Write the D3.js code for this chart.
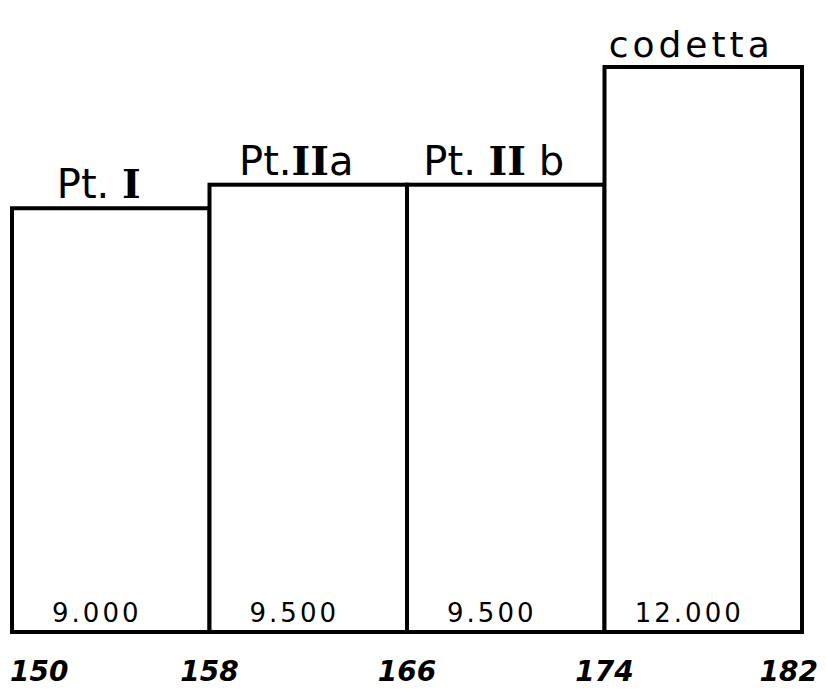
<!DOCTYPE html>
<html>
<head>
<meta charset="utf-8">
<script src="https://cdn.jsdelivr.net/npm/d3@7"></script>
<style>
  body { margin: 0; background: #fff; }
  svg { display: block; }
</style>
</head>
<body>
<svg id="chart" width="826" height="698"></svg>
<script>
// section boundaries (measures) and lengths
const starts = [150, 158, 166, 174];
const ends = [158, 166, 174, 182];
const values = [9.0, 9.5, 9.5, 12.0];
const valueLabels = ["9.000", "9.500", "9.500", "12.000"];
const sectionNames = [
  ["Pt. ", "I", ""],
  ["Pt.", "II", "a"],
  ["Pt. ", "II", " b"],
  ["codetta", "", ""],
];
const tickValues = [150, 158, 166, 174, 182];

const svg = d3.select("#chart");
const strokeW = 4;
const baseY = 632;

const x = d3.scaleLinear().domain([150, 182]).range([12, 802]);
const y = d3.scaleLinear().domain([0, 12]).range([baseY, 67]);

const data = values.map((v, i) => ({
  start: starts[i],
  end: ends[i],
  value: v,
  label: valueLabels[i],
  name: sectionNames[i],
}));

// bars
svg
  .selectAll("rect.bar")
  .data(data)
  .join("rect")
  .attr("class", "bar")
  .attr("x", (d) => x(d.start))
  .attr("y", (d) => y(d.value))
  .attr("width", (d) => x(d.end) - x(d.start))
  .attr("height", (d) => baseY - y(d.value))
  .style("fill", "white")
  .style("stroke", "black")
  .style("stroke-width", strokeW)
  .style("stroke-linejoin", "miter");

// baseline
svg
  .append("line")
  .attr("x1", x(150))
  .attr("x2", x(182))
  .attr("y1", baseY)
  .attr("y2", baseY)
  .style("stroke", "black")
  .style("stroke-width", strokeW);

// values inside bars
svg
  .selectAll("text.value")
  .data(data)
  .join("text")
  .attr("class", "value")
  .attr("x", (d) => (x(d.start) + x(d.end)) / 2 - 14)
  .attr("y", baseY - 10)
  .attr("text-anchor", "middle")
  .style("font-family", "DejaVu Sans")
  .style("font-size", "26px")
  .style("letter-spacing", "3px")
  .text((d) => d.label);

// section names above bars
const names = svg
  .selectAll("text.name")
  .data(data)
  .join("text")
  .attr("class", "name")
  .attr("x", (d) => (x(d.start) + x(d.end)) / 2 - 12)
  .attr("y", (d) => y(d.value) - 10)
  .attr("text-anchor", "middle")
  .style("font-family", "DejaVu Sans")
  .style("font-size", (d, i) => (i === 3 ? "36px" : "40px"))
  .style("letter-spacing", (d, i) => (i === 3 ? "4px" : "0px"));

names.append("tspan").text((d) => d.name[0]);
names
  .append("tspan")
  .style("font-family", "DejaVu Serif")
  .style("font-weight", "bold")
  .text((d) => d.name[1]);
names.append("tspan").text((d) => d.name[2]);

// measure numbers under the baseline
svg
  .selectAll("text.tick")
  .data(tickValues)
  .join("text")
  .attr("class", "tick")
  .attr("x", (d, i) =>
    i === 0 ? x(d) - 2 : i === tickValues.length - 1 ? x(d) + 16 : x(d)
  )
  .attr("y", 681)
  .attr("text-anchor", (d, i) =>
    i === 0 ? "start" : i === tickValues.length - 1 ? "end" : "middle"
  )
  .style("font-family", "DejaVu Sans")
  .style("font-weight", "bold")
  .style("font-style", "italic")
  .style("font-size", "28px")
  .text((d) => d);
</script>
</body>
</html>
